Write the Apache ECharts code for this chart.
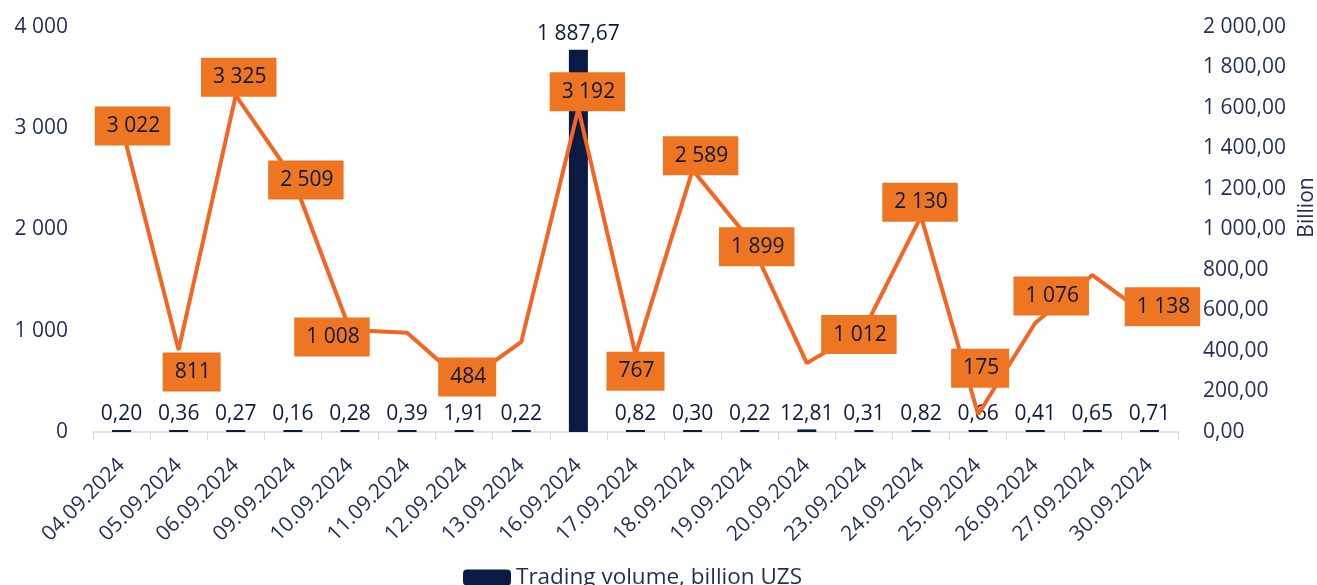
<!DOCTYPE html>
<html>
<head>
<meta charset="utf-8">
<script src="https://cdn.jsdelivr.net/npm/echarts@6/dist/echarts.min.js"></script>
<style>
html,body{margin:0;padding:0;background:#fff;}
#chart{width:1317px;height:585px;}
</style>
</head>
<body>
<div id="chart"></div>
<script>
const categories = ['04.09.2024','05.09.2024','06.09.2024','09.09.2024','10.09.2024','11.09.2024','12.09.2024','13.09.2024','16.09.2024','17.09.2024','18.09.2024','19.09.2024','20.09.2024','23.09.2024','24.09.2024','25.09.2024','26.09.2024','27.09.2024','30.09.2024'];
const tradingVolume = [0.20,0.36,0.27,0.16,0.28,0.39,1.91,0.22,1887.67,0.82,0.30,0.22,12.81,0.31,0.82,0.66,0.41,0.65,0.71];
const tradesCount = [3022,811,3325,2509,1008,980,484,890,3192,767,2589,1899,680,1012,2130,175,1076,1550,1138];
const tradesLabelShown = [true,true,true,true,true,false,true,false,true,true,true,true,false,true,true,true,true,false,true];
const tradesLabelOffsets = [[11,0],[13,22],[3,-18],[13,2],[-18,7],[0,0],[3,-6],[0,0],[9,-17],[0,17],[8,-14],[7,7],[0,0],[-5,5],[-1,-14],[2,-46],[16,-27],[0,0],[13,-10]];

const NAVY = '#0B1A42';
const AXIS_TXT = '#1F2D5A';
const FONT = '"Open Sans", "Noto Sans", sans-serif';

function fmt(v, dec){
  const s = v.toFixed(dec);
  let [i, d] = s.split('.');
  i = i.replace(/\B(?=(\d{3})+(?!\d))/g, ' ');
  return d !== undefined ? i + ',' + d : i;
}

const chart = echarts.init(document.getElementById('chart'), null, {renderer:'canvas'});
const option = {
  animation:false,
  textStyle:{fontFamily:FONT},
  grid:{left:93,right:139,top:27,bottom:153,containLabel:false,outerBoundsMode:'none'},
  legend:{
    data:['Trading volume, billion UZS'],
    bottom:-9,left:458,
    itemWidth:48,itemHeight:16,itemGap:6,
    textStyle:{color:AXIS_TXT,fontSize:22.5,fontFamily:FONT}
  },
  xAxis:{
    type:'category',data:categories,
    axisLine:{lineStyle:{color:'#D9D9D9',width:1.5}},
    axisTick:{show:true,length:8,lineStyle:{color:'#D9D9D9'}},
    axisLabel:{rotate:45,color:AXIS_TXT,fontSize:21,fontFamily:FONT,margin:30,interval:0}
  },
  yAxis:[
    {type:'value',min:0,max:4000,interval:1000,
     axisLine:{show:false},axisTick:{show:false},splitLine:{show:false},
     axisLabel:{color:AXIS_TXT,fontSize:21,fontFamily:FONT,margin:25,formatter:v=>fmt(v,0)}},
    {type:'value',min:0,max:2000,interval:200,
     name:'Billion',nameLocation:'middle',nameRotate:90,nameGap:118,
     nameTextStyle:{color:AXIS_TXT,fontSize:21,fontFamily:FONT,padding:[0,0,0,44]},
     axisLine:{show:false},axisTick:{show:false},splitLine:{show:false},
     axisLabel:{color:AXIS_TXT,fontSize:21,fontFamily:FONT,margin:25,formatter:v=>fmt(v,2)}}
  ],
  series:[
    {name:'Trading volume, billion UZS',type:'bar',yAxisIndex:1,
     data:tradingVolume,barWidth:19,barMinHeight:2,
     itemStyle:{color:NAVY},
     label:{show:true,position:'top',distance:5,color:NAVY,fontSize:21,fontFamily:FONT,
            formatter:p=>fmt(p.value,2)},
     z:2},
    {name:'Number of trades',type:'line',yAxisIndex:0,
     data:tradesCount.map((v,i)=>({
       value:v,
       label:{show:tradesLabelShown[i]}
     })),
     symbol:'circle',symbolSize:1,showSymbol:true,
     lineStyle:{color:'#F26522',width:4},
     itemStyle:{color:'#F26522'},
     label:{show:true,position:'inside',color:NAVY,fontSize:21,fontFamily:FONT,
            backgroundColor:'#EE7623',padding:[9,10,9,12],
            formatter:p=>fmt(p.value,0)},
     labelLayout:function(p){
       const o = tradesLabelOffsets[p.dataIndex] || [0,0];
       return {dx:o[0],dy:o[1],hideOverlap:false};
     },
     z:5}
  ]
};
chart.setOption(option);
</script>
</body>
</html>
